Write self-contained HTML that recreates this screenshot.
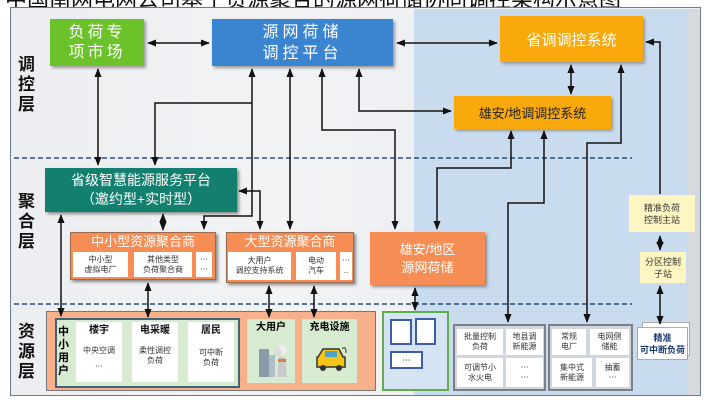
<!DOCTYPE html>
<html><head><meta charset="utf-8"><style>
*{margin:0;padding:0;box-sizing:border-box}
body{width:715px;height:409px;overflow:hidden;background:#fff;position:relative;font-family:"Liberation Sans","Noto Sans CJK SC",sans-serif}
.a{position:absolute}
.c{display:flex;align-items:center;justify-content:center;text-align:center}
.w{background:#fff;font-size:8px;line-height:10px;color:#333}
.lab{position:absolute;font-size:17px;font-weight:bold;line-height:20px;width:20px;color:#111}
</style></head><body>
<div class="a" style="left:5px;top:-18px;font-size:22px;white-space:nowrap;color:#111">中国南网电网公司基于资源聚合的源网荷储协同调控架构示意图</div>
<div class="a" style="left:10px;top:7px;width:691px;height:389px;border:1px solid #6b7d8e;background:linear-gradient(90deg,#eceef1,#f2f3f5 40%,#eef0f3 57%)"></div>
<div class="a" style="left:414px;top:9px;width:274px;height:386px;background:#c9dcef"></div>
<div class="a" style="left:688px;top:9px;width:12px;height:386px;background:#d6d9de"></div>
<div class="lab" style="left:18px;top:55px">调<br>控<br>层</div>
<div class="lab" style="left:18px;top:192px">聚<br>合<br>层</div>
<div class="lab" style="left:18px;top:322px">资<br>源<br>层</div>
<div class="a c" style="left:50px;top:19px;width:94px;height:47px;background:#6cc22a;color:#fff;font-size:16px;line-height:20px;letter-spacing:3px;box-shadow:2px 2px 3px #999">负荷专<br>项市场</div>
<div class="a c" style="left:212px;top:19px;width:181px;height:47px;background:#3b85d0;color:#fff;font-size:16px;line-height:21px;letter-spacing:4px;box-shadow:2px 2px 3px #999">源网荷储<br>调控平台</div>
<div class="a c" style="left:500px;top:16px;width:143px;height:46px;background:#f9a90c;color:#fff;font-size:15px;box-shadow:2px 2px 3px #999">省调调控系统</div>
<div class="a c" style="left:454px;top:96px;width:157px;height:33px;background:#f9a90c;color:#222;font-size:13px;box-shadow:2px 2px 3px #999">雄安/地调调控系统</div>
<div class="a c" style="left:45px;top:168px;width:192px;height:44px;background:#137f6f;color:#fff;font-size:14px;line-height:19px;box-shadow:2px 2px 3px #888">省级智慧能源服务平台<br>（邀约型+实时型）</div>
<div class="a" style="left:70px;top:232px;width:146px;height:48px;background:#f58d55;border:1px solid #9a6a50;box-shadow:2px 2px 3px #888">
 <div style="color:#fff;font-size:13px;text-align:center;line-height:18px">中小型资源聚合商</div></div>
<div class="a c w" style="left:73px;top:252px;width:55px;height:25px">中小型<br>虚拟电厂</div>
<div class="a c w" style="left:134px;top:252px;width:58px;height:25px">其他类型<br>负荷聚合商</div>
<div class="a c w" style="left:196px;top:252px;width:16px;height:25px">⋯<br>⋯</div>
<div class="a" style="left:226px;top:232px;width:128px;height:51px;background:#f58d55;border:1px solid #9a6a50;box-shadow:2px 2px 3px #888">
 <div style="color:#fff;font-size:13px;text-align:center;line-height:18px">大型资源聚合商</div></div>
<div class="a c w" style="left:228px;top:252px;width:63px;height:28px">大用户<br>调控支持系统</div>
<div class="a c w" style="left:296px;top:252px;width:40px;height:28px">电动<br>汽车</div>
<div class="a c w" style="left:340px;top:252px;width:12px;height:28px">⋯<br>..</div>
<div class="a c" style="left:370px;top:232px;width:115px;height:53px;background:#f58d55;color:#fff;font-size:13px;line-height:18px;box-shadow:2px 2px 3px #888">雄安/地区<br>源网荷储</div>
<div class="a c" style="left:629px;top:195px;width:66px;height:37px;background:#fdf6c3;font-size:9px;line-height:12px;color:#333">精准负荷<br>控制主站</div>
<div class="a c" style="left:640px;top:252px;width:46px;height:31px;background:#fdf6c3;font-size:9px;line-height:12px;color:#333">分区控制<br>子站</div>
<div class="a" style="left:642px;top:322px;width:48px;height:34px;background:#fff;border:1px solid #aaa"></div>
<div class="a c" style="left:637px;top:327px;width:51px;height:33px;background:#fff;border:1px solid #aaa;font-size:9px;font-weight:bold;line-height:12px;color:#1a3a6a">精准<br>可中断负荷</div>
<div class="a" style="left:46px;top:311px;width:330px;height:80px;background:#f8b08a;border:1px solid #777"></div>
<div class="a" style="left:55px;top:318px;width:185px;height:70px;background:#d6ebcf;border:2px solid #3f6478"></div>
<div class="a" style="left:58px;top:326px;font-size:11px;font-weight:bold;line-height:13px;width:12px">中<br>小<br>用<br>户</div>
<div class="a w" style="left:76px;top:322px;width:46px;height:60px;text-align:center"><b style="font-size:10px;line-height:18px;color:#111">楼宇</b><br><span style="line-height:22px">中央空调</span><br>⋯</div>
<div class="a w" style="left:132px;top:322px;width:46px;height:60px;text-align:center"><b style="font-size:10px;line-height:18px;color:#111">电采暖</b><div style="margin-top:6px">柔性调控<br>负荷</div></div>
<div class="a w" style="left:188px;top:322px;width:46px;height:60px;text-align:center"><b style="font-size:10px;line-height:18px;color:#111">居民</b><div style="margin-top:8px">可中断<br>负荷</div></div>
<div class="a" style="left:247px;top:319px;width:48px;height:64px;background:#d6ebcf;text-align:center;font-size:10px;font-weight:bold;line-height:18px">大用户
 <svg class="a" style="left:10px;top:22px" width="32" height="38"><rect x="2" y="8" width="10" height="28" fill="#8a9aa8"/><rect x="12" y="14" width="6" height="22" fill="#b0bcc6"/><path d="M20 36 L22 16 L28 16 L30 36Z" fill="#c9c9c9"/><rect x="21" y="18" width="8" height="3" fill="#e07a4a"/><circle cx="25" cy="9" r="5" fill="#eee"/><circle cx="21" cy="11" r="4" fill="#ddd"/></svg></div>
<div class="a" style="left:302px;top:319px;width:55px;height:64px;background:#d6ebcf;text-align:center;font-size:10px;font-weight:bold;line-height:18px">充电设施
 <svg class="a" style="left:12px;top:24px" width="34" height="30"><path d="M4 14 L9 6 L25 6 L29 14 L31 14 L31 24 L3 24 L3 14Z" fill="#f5c518" stroke="#333" stroke-width="1.5"/><rect x="11" y="8" width="12" height="6" fill="#4aa3c8"/><circle cx="9" cy="25" r="3" fill="#333"/><circle cx="25" cy="25" r="3" fill="#333"/><path d="M28 6 Q32 2 32 10" stroke="#333" fill="none"/></svg></div>
<div class="a" style="left:382px;top:311px;width:67px;height:80px;border:2px solid #63ad4c;background:#d4e4f3"></div>
<div class="a" style="left:390px;top:319px;width:22px;height:26px;border:2px solid #3d5dab;background:#fff"></div>
<div class="a" style="left:415px;top:318px;width:21px;height:27px;border:2px solid #3d5dab;background:#fff"></div>
<div class="a c" style="left:390px;top:351px;width:33px;height:18px;border:2px solid #3d5dab;background:#fff;font-size:8px">⋯</div>
<div class="a" style="left:453px;top:324px;width:93px;height:67px;border:2px solid #7a8088;background:#cfd6df"></div>
<div class="a c w" style="left:457px;top:329px;width:46px;height:26px">批量控制<br>负荷</div>
<div class="a c w" style="left:506px;top:329px;width:37px;height:26px">地县调<br>新能源</div>
<div class="a c w" style="left:457px;top:358px;width:46px;height:29px">可调节小<br>水火电</div>
<div class="a c w" style="left:506px;top:358px;width:37px;height:29px">⋯<br>⋯</div>
<div class="a" style="left:548px;top:324px;width:85px;height:67px;border:2px solid #7a8088;background:#cfd6df"></div>
<div class="a c w" style="left:552px;top:329px;width:34px;height:26px">常规<br>电厂</div>
<div class="a c w" style="left:590px;top:329px;width:39px;height:26px">电网侧<br>储能</div>
<div class="a c w" style="left:552px;top:358px;width:40px;height:29px">集中式<br>新能源</div>
<div class="a c w" style="left:596px;top:358px;width:33px;height:29px">抽蓄<br>⋯</div>
<svg class="a" style="left:0;top:0" width="715" height="409">
<defs><marker id="m" viewBox="0 0 10 10" refX="9" refY="5" markerWidth="6" markerHeight="6" orient="auto-start-reverse"><path d="M0 1L10 5L0 9Z" fill="#111"/></marker></defs>
<g stroke="#2b4c74" stroke-width="1.5" stroke-dasharray="5,3"><line x1="14" y1="158" x2="632" y2="158"/><line x1="14" y1="304" x2="632" y2="304"/></g>
<g stroke="#111" stroke-width="1.5" fill="none" marker-end="url(#m)">
<path d="M148 43H209" marker-start="url(#m)"/>
<path d="M397 43H497" marker-start="url(#m)"/>
<path d="M571 65V94" marker-start="url(#m)"/>
<path d="M98 69V165" marker-start="url(#m)"/>
<path d="M252 69V216H204V229" marker-start="url(#m)"/>
<path d="M252 103H155V165"/>
<path d="M290 69V229" marker-start="url(#m)"/>
<path d="M322 69V130H395V229" marker-start="url(#m)"/>
<path d="M359 69V111H451" marker-start="url(#m)"/>
<path d="M239 191H260V229" marker-start="url(#m)"/>
<path d="M437 229V168H511V131" marker-start="url(#m)"/>
<path d="M508 322V203H544V131" marker-start="url(#m)"/>
<path d="M587 322V143H621V65" marker-start="url(#m)"/>
<path d="M660 194V42H646"/>
<path d="M660 236V250" marker-start="url(#m)"/>
<path d="M660 286V324" marker-start="url(#m)"/>
<path d="M61 215V316" marker-start="url(#m)"/>
<path d="M163 214V230" marker-start="url(#m)"/>
<path d="M148 283V317" marker-start="url(#m)"/>
<path d="M269 286V317" marker-start="url(#m)"/>
<path d="M314 286V317" marker-start="url(#m)"/>
<path d="M415 288V310" marker-start="url(#m)"/>
</g>
</svg>
</body></html>
